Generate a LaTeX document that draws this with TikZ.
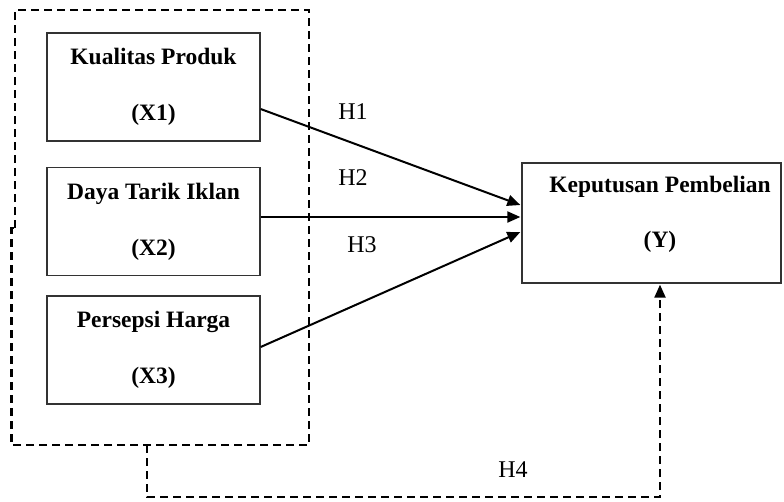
\documentclass[tikz,border=0pt]{standalone}
\usepackage{fontspec}
\setmainfont{Liberation Serif}
\usetikzlibrary{arrows.meta,calc}
\begin{document}
\begin{tikzpicture}[x=1pt,y=-1pt,
  varbox/.style={draw=black!80,line width=1.3pt,minimum width=213pt,minimum height=108pt,align=center,inner sep=0pt,
    font=\fontsize{23.5}{56}\selectfont\bfseries},
  ybox/.style={draw=black!80,line width=1.3pt,minimum width=259pt,minimum height=120pt,inner sep=0pt},
  ylab/.style={align=center,inner sep=0pt,font=\fontsize{23.5}{55}\selectfont\bfseries},
  hlab/.style={font=\fontsize{24}{28}\selectfont,inner sep=0pt},
  tip/.style={-{Triangle[length=13pt,width=11pt]}},
  arr/.style={line width=2pt,tip},
  dsh/.style={line width=2.2pt,dash pattern=on 8pt off 5pt},
]
\useasboundingbox (0,0) rectangle (784,501);
\node[varbox] (X1) at (153.5,87) {Kualitas Produk\\(X1)};
\node[varbox] (X2) at (153.5,221.5) {Daya Tarik Iklan\\(X2)};
\node[varbox] (X3) at (153.5,350) {Persepsi Harga\\(X3)};
\node[ybox] (Y) at (651.5,223) {};
\node[ylab] (Yl) at (660,214.5) {Keputusan Pembelian\\(Y)};
% dashed group boundary
\coordinate (g1) at (15,228);
\draw[dsh] (g1) -- (15,10) -- (309,10) -- (309,445) -- (11.5,445) -- (11.5,228) -- (g1);
\coordinate (gb) at (147,445);
\coordinate (gc) at (147,497);
\coordinate (yb) at ($(Y.south)+(8.5,1)$);
\draw[dsh,tip] (gb) -- (gc) -- (gc -| yb) -- (yb);
\draw[arr] ($(X1.east)+(0,22)$) -- ($(Y.west)+(-1,-18)$);
\draw[arr] ($(X2.east)+(0,-4.5)$) -- ($(Y.west)+(-1,-6)$);
\draw[arr] ($(X3.east)+(0,-3)$) -- ($(Y.west)+(-1,9)$);
\node[hlab] (H1) at (353,112) {H1};
\node[hlab] (H2) at (353,178) {H2};
\node[hlab] (H3) at (362,245) {H3};
\node[hlab] (H4) at (513,470) {H4};
\end{tikzpicture}
\end{document}
